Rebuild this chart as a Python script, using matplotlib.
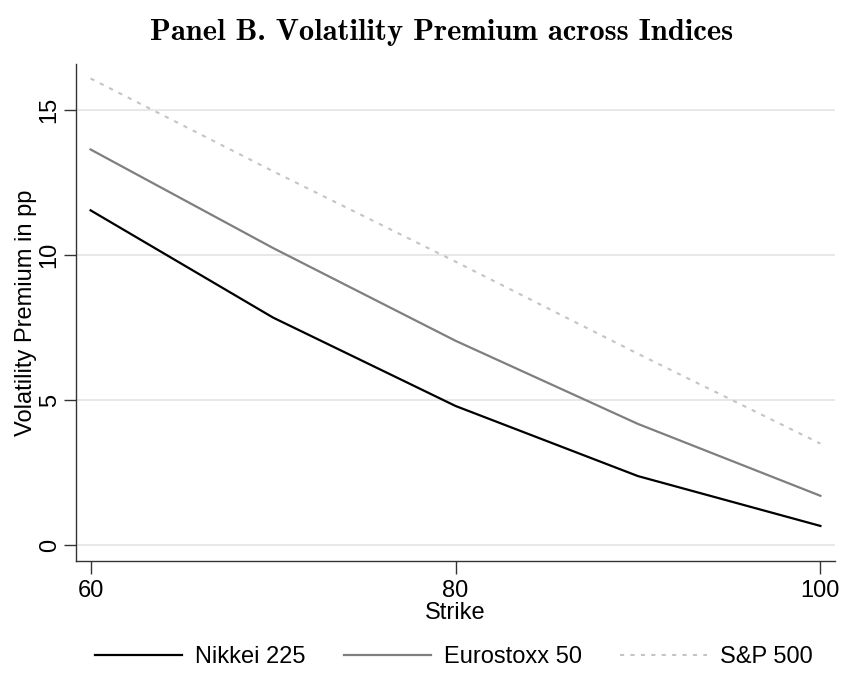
import matplotlib
matplotlib.use("Agg")
import matplotlib.pyplot as plt

# Volatility premium (pp) by strike for each index
strikes = [60, 70, 80, 90, 100]
nikkei = [11.55, 7.85, 4.8, 2.38, 0.66]
eurostoxx = [13.65, 10.25, 7.05, 4.18, 1.7]
sp500 = [16.1, 12.9, 9.78, 6.6, 3.5]

x_ticks = [60, 80, 100]
y_ticks = [0, 5, 10, 15]

plt.rcParams.update({
    "font.family": ["Liberation Sans", "DejaVu Sans"],
    "font.size": 17,
})

fig = plt.figure(figsize=(8.42, 6.73), dpi=100)
ax = fig.add_axes([76 / 842, 1 - 561 / 673, (835 - 76) / 842, (561 - 64) / 673])

ax.plot(strikes, nikkei, color="black", linewidth=1.6, label="Nikkei 225")
ax.plot(strikes, eurostoxx, color="#7f7f7f", linewidth=1.6, label="Eurostoxx 50")
ax.plot(strikes, sp500, color="#c4c4c4", linewidth=1.5, linestyle=(0, (2, 3)),
        label="S&P 500")

ax.set_xlim(59.2, 100.8)
ax.set_ylim(-0.55, 16.6)
ax.set_xticks(x_ticks)
ax.set_yticks(y_ticks)
ax.set_yticklabels([str(v) for v in y_ticks], rotation=90, va="center")
ax.yaxis.grid(True, color="#e6e6e6", linewidth=1.3)
ax.set_axisbelow(True)
ax.tick_params(length=9, width=1, color="#333333", labelsize=17, pad=5)
ax.tick_params(axis="y", pad=2)

for side in ("top", "right"):
    ax.spines[side].set_visible(False)
for side in ("left", "bottom"):
    ax.spines[side].set_color("#333333")
    ax.spines[side].set_linewidth(1.0)

ax.set_xlabel("Strike", fontsize=17, labelpad=0)
ax.set_ylabel("Volatility Premium in pp", fontsize=17, labelpad=1)

fig.text(442 / 842, 1 - 32 / 673, "Panel B. Volatility Premium across Indices",
         ha="center", va="center", fontsize=22, family="cmb10")

fig.legend(loc="center", bbox_to_anchor=(454 / 842, 1 - 657 / 673), ncol=3,
           frameon=False, fontsize=17, handlelength=3.7, handletextpad=0.55,
           columnspacing=1.6)

fig.savefig("out.png", dpi=100)
